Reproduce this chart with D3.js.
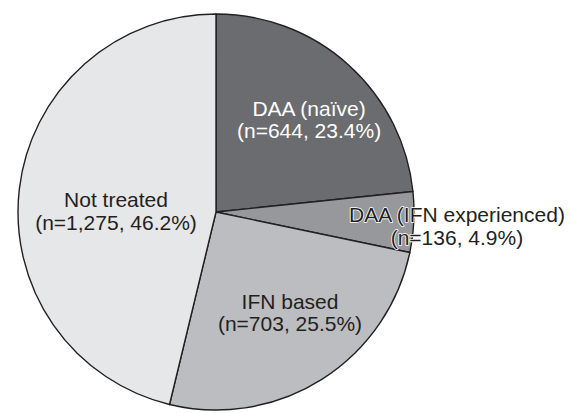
<!DOCTYPE html>
<html>
<head>
<meta charset="utf-8">
<script src="https://cdn.jsdelivr.net/npm/d3@7"></script>
<style>
  html, body { margin: 0; padding: 0; background: #fff; }
  svg { display: block; }
  text { font-family: "Liberation Sans", Arial, Helvetica, sans-serif; }
</style>
</head>
<body>
<svg id="chart" width="572" height="413"></svg>
<script>
// Treatment groups (clockwise from 12 o'clock)
const categories = ["DAA (naïve)", "DAA (IFN experienced)", "IFN based", "Not treated"];
const counts = [644, 136, 703, 1275];
const percents = ["23.4%", "4.9%", "25.5%", "46.2%"];
const fills = ["#6b6c70", "#97989b", "#bcbdc0", "#e6e7e8"];
const labelColors = ["#ffffff", "#231f20", "#231f20", "#231f20"];
// label anchor points in polar form: [angle in degrees clockwise from top, radius factor]
const labelPolar = [[45.4, 0.66], [93.4, 1.219], [143.8, 0.633], [270.4, 0.505]];

const W = 572, H = 413;
const cx = 216, cy = 212, R = 198;

const svg = d3.select("#chart");
const g = svg.append("g").attr("transform", `translate(${cx},${cy})`);

const data = categories.map((c, i) => ({ name: c, n: counts[i], pct: percents[i], i }));

const pie = d3.pie().sort(null).value(d => d.n);
const arc = d3.arc().innerRadius(0).outerRadius(R);
const arcs = pie(data);

g.selectAll("path.slice")
  .data(arcs)
  .join("path")
  .attr("class", "slice")
  .attr("d", arc)
  .attr("fill", d => fills[d.data.i])
  .attr("stroke", "#231f20")
  .attr("stroke-width", 1.4)
  .attr("stroke-linejoin", "round");

const fmt = d3.format(",");
const fontSize = 21, lineGap = 22.5;

const labels = g.selectAll("text.lbl")
  .data(arcs)
  .join("text")
  .attr("class", "lbl")
  .attr("text-anchor", "middle")
  .attr("font-size", fontSize)
  .attr("fill", d => labelColors[d.data.i])
  .attr("transform", d => {
    const [deg, k] = labelPolar[d.data.i];
    const a = deg * Math.PI / 180;
    return `translate(${Math.sin(a) * R * k},${-Math.cos(a) * R * k})`;
  });

labels.each(function(d) {
  const t = d3.select(this);
  // small slice label spills past the rim: give it a light halo
  if (d.data.i === 1) {
    t.attr("stroke", "#ffffff").attr("stroke-width", 1.6)
     .attr("paint-order", "stroke").attr("stroke-linejoin", "round");
  }
  t.append("tspan").attr("x", 0).attr("dy", -lineGap / 2 + 7).text(d.data.name);
  t.append("tspan").attr("x", 0).attr("dy", lineGap)
    .text(`(n=${fmt(d.data.n)}, ${d.data.pct})`);
});
</script>
</body>
</html>
